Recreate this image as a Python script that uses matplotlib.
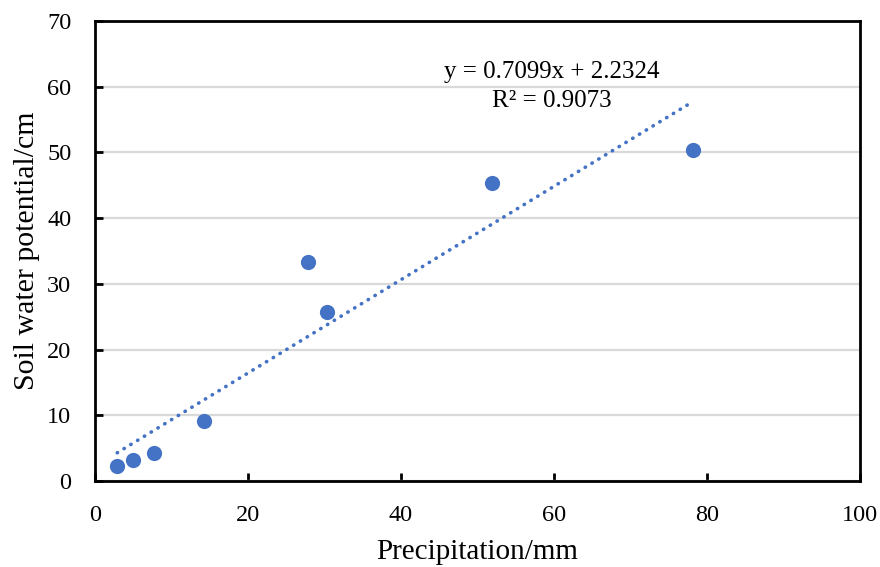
import matplotlib.pyplot as plt
import numpy as np

precip = [2.9, 5.0, 7.7, 14.3, 27.8, 30.3, 51.9, 78.2]
soil_wp = [2.3, 3.2, 4.3, 9.2, 33.3, 25.7, 45.3, 50.4]

slope = 0.7099
intercept = 2.2324
r2 = 0.9073

plt.rcParams['font.family'] = 'Liberation Serif'

fig = plt.figure(figsize=(8.8, 5.67), dpi=100)
ax = fig.add_axes([0.108, 0.1517, 0.869, 0.8113])

blue = '#4472C4'
xs = np.array([min(precip), max(precip) - 0.6])
ax.plot(xs, slope * xs + intercept, linestyle=(0, (0.1, 2.1)), dash_capstyle='round',
        color=blue, lw=2.6, zorder=2)
ax.scatter(precip, soil_wp, s=120, color=blue, zorder=3, linewidths=0)

ax.text(59.7, 62.2, 'y = 0.7099x + 2.2324', ha='center', va='center', fontsize=18)
ax.text(59.7, 57.8, 'R² = %.4f' % r2, ha='center', va='center', fontsize=18)

ax.set_xlim(0, 100)
ax.set_ylim(0, 70)
ax.set_xticks(range(0, 101, 20))
ax.set_yticks(range(0, 71, 10))
ax.yaxis.grid(True, color='#d9d9d9', lw=1.6)
ax.set_axisbelow(True)
for s in ax.spines.values():
    s.set_linewidth(2)
ax.tick_params(direction='in', length=6, width=2, labelsize=17.5, pad=17,
               top=False, right=False)
ax.set_xlabel('Precipitation/mm', fontsize=21, labelpad=10)
ax.set_ylabel('Soil water potential/cm', fontsize=21.5, labelpad=5)

fig.savefig('out.png', dpi=100)
